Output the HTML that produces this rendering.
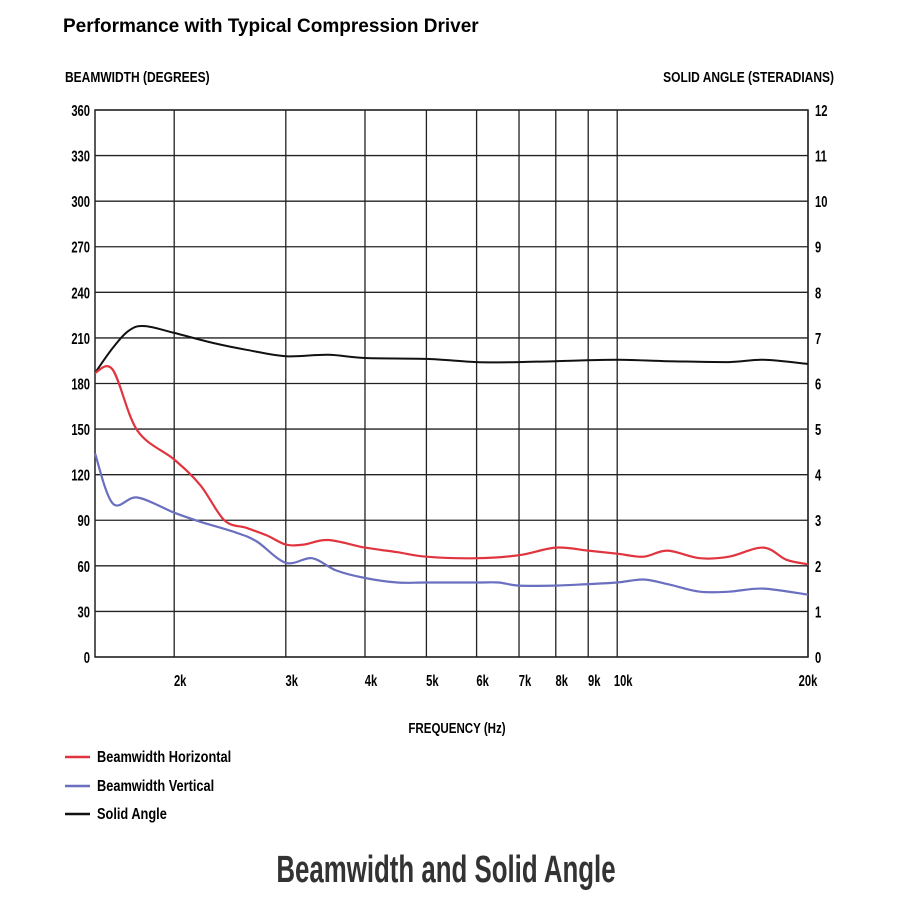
<!DOCTYPE html>
<html><head><meta charset="utf-8"><style>
body{margin:0;background:#fff;width:900px;height:900px;overflow:hidden;font-family:"Liberation Sans",sans-serif}
svg text{font-family:"Liberation Sans",sans-serif}
</style></head><body>
<svg id="chart" width="900" height="900" viewBox="0 0 900 900" xmlns="http://www.w3.org/2000/svg">
<text x="63" y="32" font-size="19" font-weight="bold" fill="#000">Performance with Typical Compression Driver</text>
<text x="65" y="82" font-size="15" font-weight="bold" transform="translate(65 0) scale(0.8 1) translate(-65 0)">BEAMWIDTH (DEGREES)</text>
<text x="834" y="82" font-size="15" font-weight="bold" text-anchor="end" transform="translate(834 0) scale(0.8 1) translate(-834 0)">SOLID ANGLE (STERADIANS)</text>
<text x="457" y="733" font-size="15" font-weight="bold" text-anchor="middle" transform="translate(457 0) scale(0.77 1) translate(-457 0)">FREQUENCY (Hz)</text>
<text x="446" y="882" font-size="38" font-weight="bold" text-anchor="middle" fill="#333" transform="translate(446 0) scale(0.68 1) translate(-446 0)">Beamwidth and Solid Angle</text>
<g id="grid"></g><g id="series"></g><g id="labels"></g>
<g>
<line x1="65" y1="757" x2="90" y2="757" stroke="#e0353f" stroke-width="2.5"/>
<text x="97" y="762" font-size="16" font-weight="bold" transform="translate(97 0) scale(0.8 1) translate(-97 0)">Beamwidth Horizontal</text>
<line x1="65" y1="786" x2="90" y2="786" stroke="#6a6fc0" stroke-width="2.5"/>
<text x="97" y="791" font-size="16" font-weight="bold" transform="translate(97 0) scale(0.8 1) translate(-97 0)">Beamwidth Vertical</text>
<line x1="65" y1="814" x2="90" y2="814" stroke="#111" stroke-width="2.5"/>
<text x="97" y="819" font-size="16" font-weight="bold" transform="translate(97 0) scale(0.8 1) translate(-97 0)">Solid Angle</text>
</g>
</svg>
<script>
const freqs=[1500,1600,1750,2000,2200,2400,2600,2800,3000,3200,3500,4000,4500,5000,6000,7000,8000,9000,10000,11000,12000,13500,15000,17000,18500,20000];
const horizontal=[187,189,149,130,113,90,85,80,74,74,77,72,69,66,65,67,72,70,68,66,70,65,66,72,64,61];
const vFreqs=[1500,1600,1750,2000,2200,2500,2700,3000,3300,3600,4000,4500,5000,6000,6500,7000,8000,9000,10000,11000,12000,13500,15000,17000,20000];
const vertical=[134,101,105,95,89,82,76,62,65,57,52,49,49,49,49,47,47,48,49,51,48,43,43,45,41];
const sFreqs=[1500,1600,1700,1800,2000,2300,2600,3000,3500,4000,5000,6000,7000,8000,10000,12000,15000,17000,20000];
const solidAngle=[6.23,6.78,7.17,7.26,7.11,6.89,6.74,6.6,6.63,6.56,6.54,6.47,6.47,6.49,6.52,6.49,6.47,6.52,6.43];
const degTicks=[0,30,60,90,120,150,180,210,240,270,300,330,360];
const srTicks=[0,1,2,3,4,5,6,7,8,9,10,11,12];
const freqTicks=[2000,3000,4000,5000,6000,7000,8000,9000,10000,20000];
const freqLabels=["2k","3k","4k","5k","6k","7k","8k","9k","10k","20k"];
const L=95,R=808,T=110,B=657,F0=1500,F1=20000;
const x=f=>L+(Math.log10(f/F0)/Math.log10(F1/F0))*(R-L);
const yd=v=>B-v/360*(B-T);
const ys=v=>B-v/12*(B-T);
const NS="http://www.w3.org/2000/svg";
function mk(tag,attrs,parent){const e=document.createElementNS(NS,tag);for(const k in attrs)e.setAttribute(k,attrs[k]);parent.appendChild(e);return e;}
const grid=document.getElementById('grid'),series=document.getElementById('series'),labels=document.getElementById('labels');
degTicks.forEach((d,i)=>{
 const l=mk('line',{x1:L,x2:R,y1:yd(d),y2:yd(d),stroke:'#222','stroke-width':1.3},grid);
 
 
 const t=mk('text',{x:90,y:yd(d)+6,'font-size':16,'font-weight':'bold','text-anchor':'end',transform:`translate(90 0) scale(0.7 1) translate(-90 0)`},labels);
 t.textContent=d;
 
 
 const t2=mk('text',{x:815,y:ys(srTicks[i])+6,'font-size':16,'font-weight':'bold',transform:`translate(815 0) scale(0.7 1) translate(-815 0)`},labels);
 t2.textContent=srTicks[i];
 
 
});
freqTicks.forEach((f,i)=>{
 const l=mk('line',{x1:x(f),x2:x(f),y1:T,y2:B,stroke:'#222','stroke-width':1.3},grid);
 
 
 const xx=x(f)+(i==freqTicks.length-1?0:6);
 const t=mk('text',{x:xx,y:686,'font-size':16,'font-weight':'bold','text-anchor':'middle',transform:`translate(${xx} 0) scale(0.7 1) translate(${-xx} 0)`},labels);
 t.textContent=freqLabels[i];
 
 
});
const frame=mk('rect',{x:L,y:T,width:R-L,height:B-T,fill:'none',stroke:'#222','stroke-width':1.5},grid);


function path(fs,vs,yf){
 const p=fs.map((f,i)=>[x(f),yf(vs[i])]);
 let d='M'+p[0][0].toFixed(1)+' '+p[0][1].toFixed(1);
 for(let i=0;i<p.length-1;i++){
  const p0=p[Math.max(0,i-1)],p1=p[i],p2=p[i+1],p3=p[Math.min(p.length-1,i+2)];
  const c1=[p1[0]+(p2[0]-p0[0])/6,p1[1]+(p2[1]-p0[1])/6];
  const c2=[p2[0]-(p3[0]-p1[0])/6,p2[1]-(p3[1]-p1[1])/6];
  d+=` C${c1[0].toFixed(1)} ${c1[1].toFixed(1)} ${c2[0].toFixed(1)} ${c2[1].toFixed(1)} ${p2[0].toFixed(1)} ${p2[1].toFixed(1)}`;
 }
 return d;
}
const sa=mk('path',{d:path(sFreqs,solidAngle,ys),fill:'none',stroke:'#111','stroke-width':2,'stroke-linejoin':'round'},series);


const vh=mk('path',{d:path(vFreqs,vertical,yd),fill:'none',stroke:'#6a6fc0','stroke-width':2.2,'stroke-linejoin':'round'},series);


const hh=mk('path',{d:path(freqs,horizontal,yd),fill:'none',stroke:'#e0353f','stroke-width':2.2,'stroke-linejoin':'round'},series);


</script>
</body></html>
